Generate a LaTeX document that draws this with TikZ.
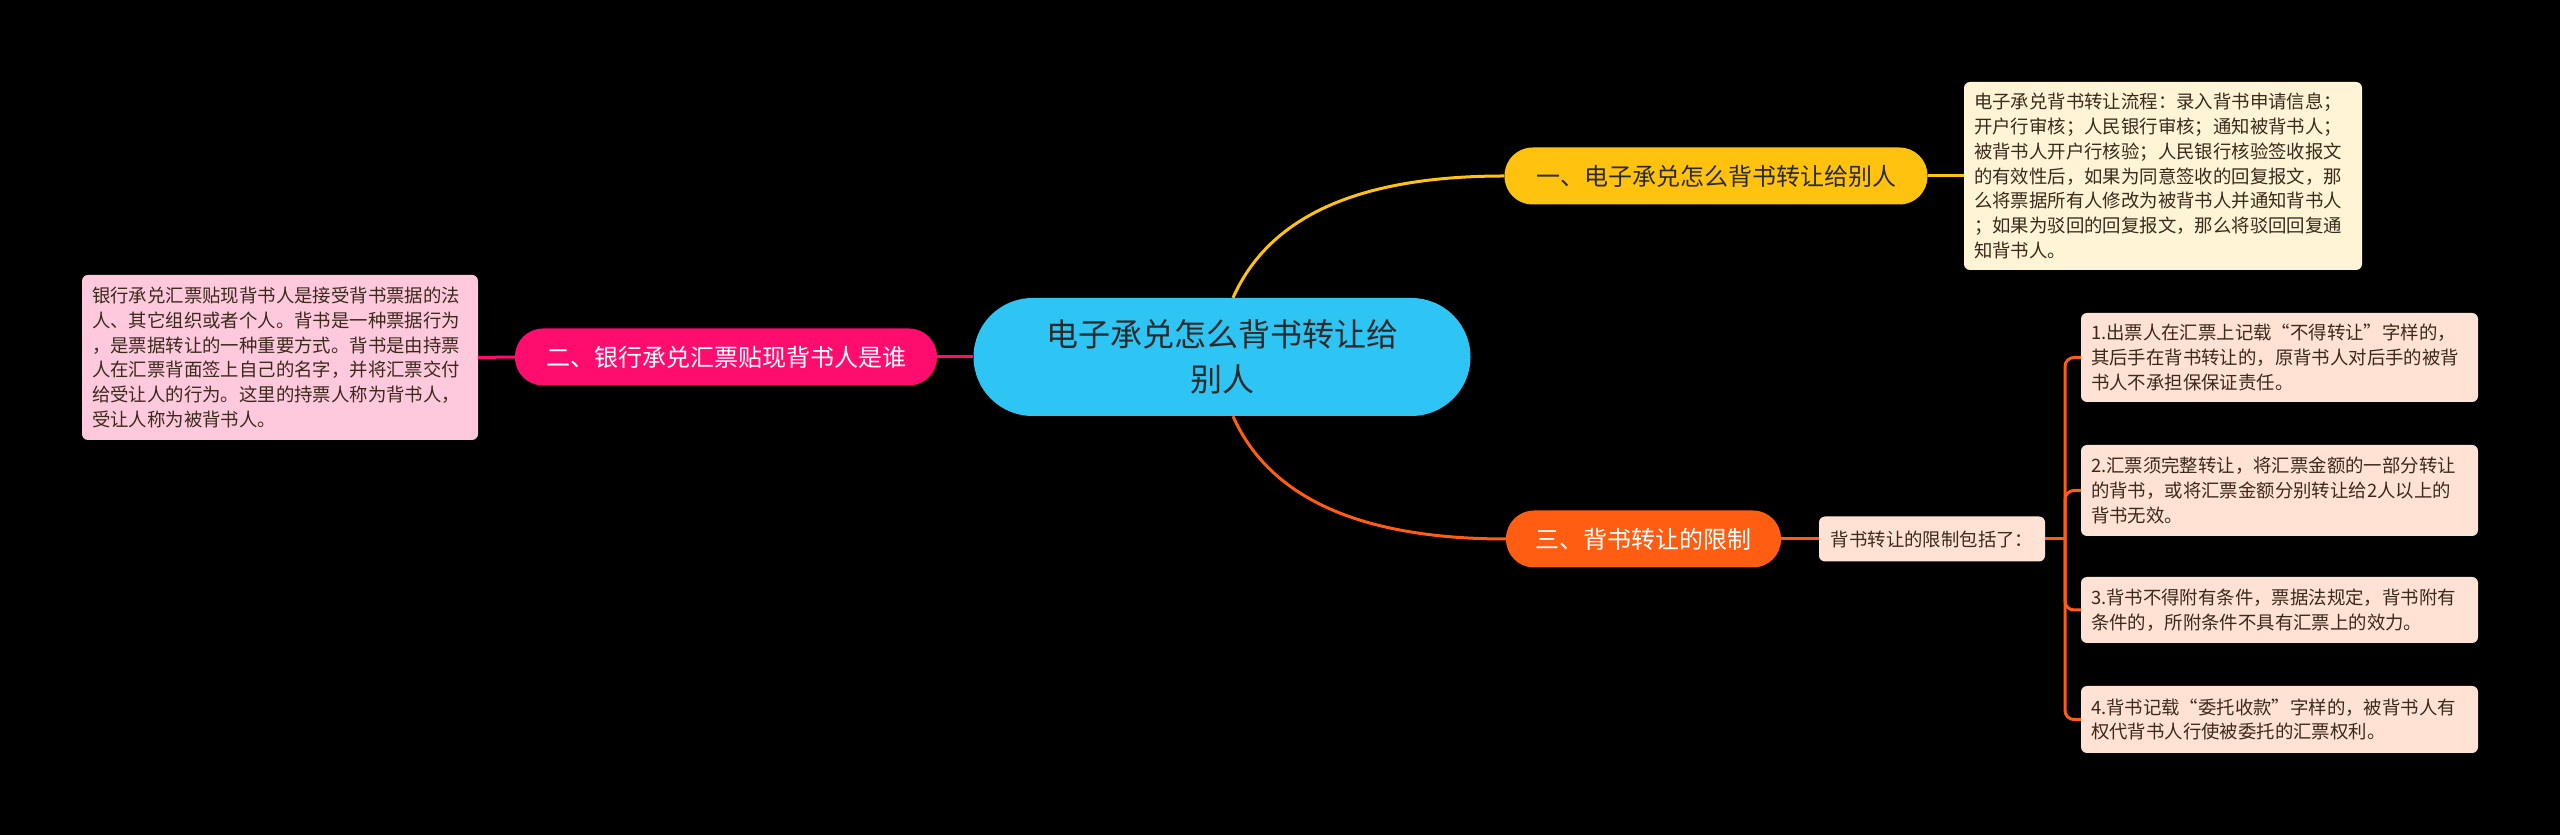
\documentclass[tikz,border=0pt]{standalone}
\usepackage{fontspec}
\setmainfont{Noto Sans CJK SC}

\definecolor{rootblue}{HTML}{2EC4F3}
\definecolor{branchyellow}{HTML}{FFC20E}
\definecolor{branchpink}{HTML}{FF0D6E}
\definecolor{branchorange}{HTML}{FF5D12}
\definecolor{notecream}{HTML}{FFF4D6}
\definecolor{notepink}{HTML}{FFC9DD}
\definecolor{notepeach}{HTML}{FFE2D3}
\definecolor{textdark}{HTML}{2A2A2A}
\definecolor{notetext}{HTML}{3A2A1C}

\begin{document}
\begin{tikzpicture}[x=1pt, y=1pt]

% ---- Define Styles ----
\tikzset{
  rootnode/.style={
    fill=rootblue, text=textdark, rounded corners=59pt, inner sep=0pt,
    minimum width=497pt, minimum height=118pt, align=center,
    font=\fontsize{32}{45}\selectfont
  },
  branchnode/.style={
    rounded corners=28pt, inner sep=0pt, minimum height=57pt, align=center,
    font=\fontsize{24}{30}\selectfont
  },
  notebox/.style={
    rounded corners=6pt, text=notetext, inner xsep=10pt, inner ysep=0pt,
    align=left, font=\fontsize{18.4}{24.8}\selectfont
  },
  link/.style={line width=3pt}
}

% background and page size
\fill[black] (0,0) rectangle (2560,835);
\useasboundingbox (0,0) rectangle (2560,835);

% =========================================================
% CENTRE
% =========================================================
\node[rootnode] (root) at (1222, 478) {电子承兑怎么背书转让给\\别人};

% =========================================================
% BRANCHES
% =========================================================
\node[branchnode, fill=branchyellow, text=textdark, minimum width=423pt] (br1) at (1716, 659) {一、电子承兑怎么背书转让给别人};
\node[branchnode, fill=branchpink, text=white, minimum width=422pt]      (br2) at (726, 478)  {二、银行承兑汇票贴现背书人是谁};
\node[branchnode, fill=branchorange, text=white, minimum width=275pt]    (br3) at (1643.5, 296) {三、背书转让的限制};

% =========================================================
% NOTES
% =========================================================
\node[notebox, fill=notecream, text width=378pt, minimum height=188pt] (note1) at (2163, 659)
  {电子承兑背书转让流程：录入背书申请信息；\\开户行审核；人民银行审核；通知被背书人；\\被背书人开户行核验；人民银行核验签收报文\\的有效性后，如果为同意签收的回复报文，那\\么将票据所有人修改为被背书人并通知背书人\\；如果为驳回的回复报文，那么将驳回回复通\\知背书人。};
\node[notebox, fill=notepink, text width=376pt, minimum height=165pt] (note2) at (280, 477.5)
  {银行承兑汇票贴现背书人是接受背书票据的法\\人、其它组织或者个人。背书是一种票据行为\\，是票据转让的一种重要方式。背书是由持票\\人在汇票背面签上自己的名字，并将汇票交付\\给受让人的行为。这里的持票人称为背书人，\\受让人称为被背书人。};

\node[notebox, fill=notepeach, inner xsep=9pt, minimum width=226pt, minimum height=45pt] (lim) at (1932, 296) {背书转让的限制包括了：};

% limits, one box each
\node[notebox, fill=notepeach, text width=377pt, minimum height=89pt] (item1) at (2279.5, 477.5)
  {1.出票人在汇票上记载“不得转让”字样的，\\其后手在背书转让的，原背书人对后手的被背\\书人不承担保保证责任。};
\node[notebox, fill=notepeach, text width=377pt, minimum height=91pt] (item2) at (2279.5, 344.5)
  {2.汇票须完整转让，将汇票金额的一部分转让\\的背书，或将汇票金额分别转让给2人以上的\\背书无效。};
\node[notebox, fill=notepeach, text width=377pt, minimum height=66pt] (item3) at (2279.5, 225)
  {3.背书不得附有条件，票据法规定，背书附有\\条件的，所附条件不具有汇票上的效力。};
\node[notebox, fill=notepeach, text width=377pt, minimum height=67pt] (item4) at (2279.5, 115.5)
  {4.背书记载“委托收款”字样的，被背书人有\\权代背书人行使被委托的汇票权利。};

% =========================================================
% CONNECTORS
% =========================================================
\draw[link, branchyellow] ([xshift=11pt]root.north) .. controls +(40,90) and +(-130,0) .. (br1.west);
\draw[link, branchyellow] (br1.east) -- (note1.west);

\draw[link, branchpink] (root.west) -- (br2.east);
\draw[link, branchpink] (br2.west) -- (note2.east);

\draw[link, branchorange] ([xshift=11pt]root.south) .. controls +(40,-90) and +(-130,0) .. (br3.west);
\draw[link, branchorange] (br3.east) -- (lim.west);

\coordinate (fork) at (2065, 296);
\draw[link, branchorange] (lim.east) -- (fork);
\foreach \i in {1,...,4}
  \draw[link, branchorange, rounded corners=9pt] (fork) |- (item\i.west);

\end{tikzpicture}
\end{document}
